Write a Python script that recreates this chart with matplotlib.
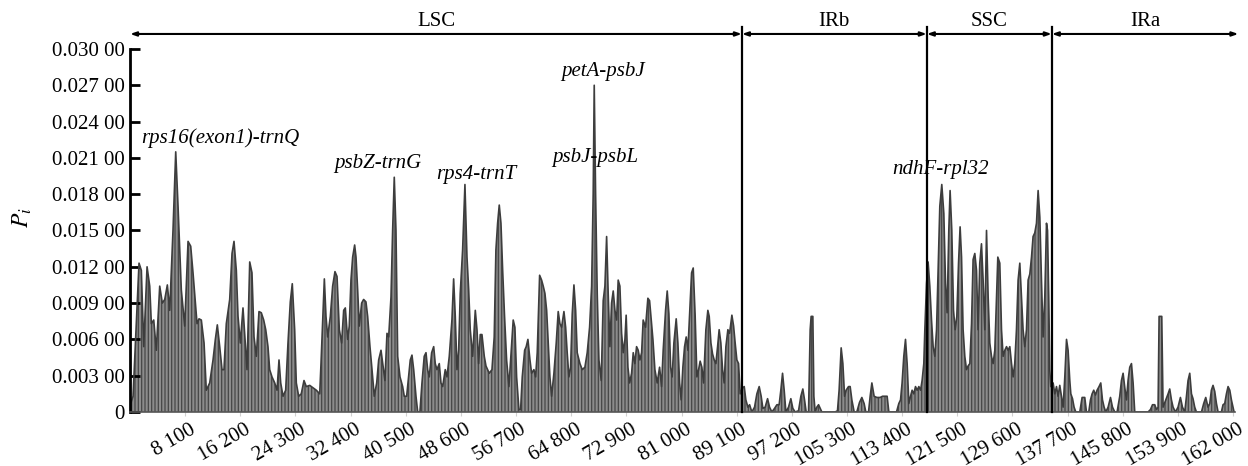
import matplotlib
matplotlib.use("Agg")
import matplotlib.pyplot as plt
import matplotlib.transforms as mtransforms
import numpy as np

plt.rcParams['font.family'] = ['Liberation Serif', 'DejaVu Serif']
plt.rcParams['mathtext.fontset'] = 'stix'
plt.rcParams['hatch.linewidth'] = 0.9

# (window midpoint in kb, nucleotide diversity Pi), one list per region
lsc = [
    (0.15, 0.0008), (0.44, 0.0013), (1.32, 0.0123), (1.66, 0.0117), (2.01, 0.0054),
    (2.50, 0.0120), (2.89, 0.0104), (3.13, 0.0073), (3.48, 0.0076), (3.86, 0.0051),
    (4.36, 0.0104), (4.74, 0.0090), (5.10, 0.0093), (5.48, 0.0105), (5.83, 0.0084),
    (6.31, 0.0150), (6.71, 0.0215), (7.05, 0.0170), (7.53, 0.0101), (8.03, 0.0071),
    (8.52, 0.0141), (8.91, 0.0137), (9.25, 0.0115), (9.84, 0.0073), (10.13, 0.0077),
    (10.47, 0.0076), (10.87, 0.0057), (11.20, 0.0018), (11.70, 0.0024), (12.19, 0.0043),
    (12.53, 0.0060), (12.82, 0.0072), (13.17, 0.0054), (13.51, 0.0035), (13.80, 0.0035),
    (14.14, 0.0073), (14.64, 0.0093), (14.98, 0.0131), (15.27, 0.0141), (15.61, 0.0117),
    (15.86, 0.0079), (16.20, 0.0057), (16.59, 0.0086), (16.93, 0.0057), (17.18, 0.0035),
    (17.58, 0.0124), (17.91, 0.0115), (18.21, 0.0062), (18.55, 0.0046), (18.94, 0.0083),
    (19.28, 0.0082), (19.63, 0.0076), (19.93, 0.0068), (20.26, 0.0054), (20.51, 0.0035),
    (20.85, 0.0029), (21.25, 0.0024), (21.59, 0.0018), (21.88, 0.0043), (22.13, 0.0024),
    (22.47, 0.0013), (22.86, 0.0018), (23.20, 0.0057), (23.54, 0.0091), (23.83, 0.0106),
    (24.18, 0.0068), (24.42, 0.0024), (24.77, 0.0013), (25.15, 0.0015), (25.55, 0.0026),
    (25.89, 0.0021), (26.39, 0.0022), (26.87, 0.0020), (27.36, 0.0018), (27.86, 0.0015),
    (28.05, 0.0040), (28.54, 0.0110), (28.78, 0.0079), (29.03, 0.0062), (29.42, 0.0079),
    (29.76, 0.0104), (30.10, 0.0116), (30.40, 0.0112), (30.74, 0.0068), (31.08, 0.0057),
    (31.38, 0.0084), (31.62, 0.0086), (31.96, 0.0060), (32.20, 0.0071), (32.45, 0.0109),
    (32.70, 0.0128), (32.99, 0.0138), (33.19, 0.0128), (33.43, 0.0101), (33.67, 0.0071),
    (34.02, 0.0090), (34.31, 0.0093), (34.65, 0.0091), (34.90, 0.0079), (35.24, 0.0054),
    (35.54, 0.0035), (35.87, 0.0013), (36.23, 0.0024), (36.52, 0.0043), (36.86, 0.0051),
    (37.11, 0.0040), (37.44, 0.0026), (37.74, 0.0065), (37.99, 0.0062), (38.33, 0.0095),
    (38.57, 0.0150), (38.81, 0.0194), (39.06, 0.0150), (39.31, 0.0046), (39.65, 0.0029),
    (40.04, 0.0021), (40.28, 0.0013), (40.63, 0.0013), (40.92, 0.0029), (41.16, 0.0043),
    (41.41, 0.0047), (41.66, 0.0035), (42.00, 0.0013), (42.25, 0.0), (42.58, 0.0),
    (42.88, 0.0024), (43.21, 0.0046), (43.47, 0.0049), (43.71, 0.0035), (43.95, 0.0029),
    (44.30, 0.0049), (44.60, 0.0054), (44.83, 0.0040), (45.08, 0.0035), (45.42, 0.0040),
    (45.67, 0.0024), (45.92, 0.0021), (46.30, 0.0035), (46.55, 0.0029), (46.89, 0.0046),
    (47.28, 0.0076), (47.53, 0.0110), (47.77, 0.0079), (48.02, 0.0035), (48.27, 0.0051),
    (48.50, 0.0098), (48.85, 0.0134), (49.19, 0.0188), (49.49, 0.0128), (49.74, 0.0101),
    (49.97, 0.0068), (50.32, 0.0046), (50.71, 0.0084), (50.96, 0.0068), (51.20, 0.0040),
    (51.44, 0.0064), (51.69, 0.0064), (52.03, 0.0046), (52.28, 0.0038), (52.52, 0.0035),
    (52.76, 0.0032), (53.16, 0.0035), (53.49, 0.0062), (53.74, 0.0134), (53.99, 0.0156),
    (54.23, 0.0171), (54.48, 0.0156), (54.73, 0.0117), (55.00, 0.0080), (55.31, 0.0043),
    (55.65, 0.0021), (55.99, 0.0051), (56.28, 0.0076), (56.53, 0.0070), (56.78, 0.0029),
    (57.12, 0.0002), (57.37, 0.0002), (57.61, 0.0029), (57.96, 0.0051), (58.19, 0.0054),
    (58.44, 0.0060), (58.74, 0.0043), (58.98, 0.0032), (59.32, 0.0035), (59.57, 0.0029),
    (59.81, 0.0049), (60.16, 0.0113), (60.45, 0.0109), (60.69, 0.0104), (60.94, 0.0098),
    (61.19, 0.0084), (61.42, 0.0057), (61.67, 0.0029), (61.92, 0.0013), (62.26, 0.0032),
    (62.60, 0.0057), (62.89, 0.0083), (63.14, 0.0073), (63.39, 0.0070), (63.73, 0.0083),
    (63.98, 0.0070), (64.21, 0.0049), (64.46, 0.0029), (64.71, 0.0037), (64.95, 0.0081),
    (65.20, 0.0105), (65.45, 0.0084), (65.68, 0.0049), (66.08, 0.0040), (66.42, 0.0035),
    (66.81, 0.0037), (67.15, 0.0049), (67.50, 0.0070), (67.80, 0.0104), (68.03, 0.0181),
    (68.18, 0.0270), (68.38, 0.0181), (68.62, 0.0098), (68.87, 0.0043), (69.21, 0.0026),
    (69.50, 0.0092), (69.75, 0.0104), (70.00, 0.0145), (70.23, 0.0098), (70.48, 0.0054),
    (70.73, 0.0090), (70.97, 0.0100), (71.22, 0.0084), (71.47, 0.0076), (71.70, 0.0109),
    (71.95, 0.0104), (72.20, 0.0065), (72.44, 0.0049), (72.69, 0.0060), (72.87, 0.0080),
    (73.13, 0.0037), (73.38, 0.0024), (73.67, 0.0032), (73.91, 0.0049), (74.15, 0.0040),
    (74.40, 0.0054), (74.64, 0.0051), (74.89, 0.0043), (75.14, 0.0049), (75.37, 0.0076),
    (75.72, 0.0070), (76.06, 0.0094), (76.31, 0.0092), (76.55, 0.0076), (76.80, 0.0060),
    (77.09, 0.0035), (77.43, 0.0024), (77.78, 0.0037), (78.07, 0.0021), (78.31, 0.0051),
    (78.66, 0.0084), (78.90, 0.0100), (79.15, 0.0081), (79.40, 0.0037), (79.63, 0.0029),
    (79.88, 0.0057), (80.22, 0.0077), (80.47, 0.0057), (80.72, 0.0024), (80.95, 0.0010),
    (81.20, 0.0037), (81.45, 0.0054), (81.69, 0.0062), (81.94, 0.0051), (82.19, 0.0081),
    (82.48, 0.0115), (82.72, 0.0119), (83.00, 0.0080), (83.26, 0.0029), (83.51, 0.0035),
    (83.74, 0.0042), (83.99, 0.0037), (84.24, 0.0024), (84.58, 0.0068), (84.87, 0.0084),
    (85.07, 0.0079), (85.32, 0.0057), (85.56, 0.0048), (85.80, 0.0043), (86.05, 0.0040),
    (86.30, 0.0054), (86.53, 0.0068), (86.78, 0.0057), (87.03, 0.0035), (87.27, 0.0024),
    (87.52, 0.0054), (87.81, 0.0068), (88.06, 0.0065), (88.40, 0.0080), (88.65, 0.0071),
    (88.88, 0.0057), (89.13, 0.0043), (89.38, 0.0040), (89.62, 0.0015),
]
irb = [
    (89.97, 0.0020), (90.21, 0.0021), (90.45, 0.0010), (90.75, 0.0004), (91.00, 0.0006),
    (91.33, 0.0), (91.73, 0.0004), (92.07, 0.0015), (92.41, 0.0021), (92.70, 0.0013),
    (92.95, 0.0003), (93.29, 0.0004), (93.64, 0.0011), (93.93, 0.0004), (94.27, 0.0),
    (94.67, 0.0003), (95.01, 0.0006), (95.34, 0.0006), (95.59, 0.0018), (95.84, 0.0032),
    (96.08, 0.0018), (96.33, 0.0), (96.72, 0.0004), (97.06, 0.0011), (97.35, 0.0003),
    (97.69, 0.0), (98.19, 0.0001), (98.53, 0.0013), (98.82, 0.0019), (99.07, 0.0010),
    (99.31, 0.0), (99.66, 0.0), (99.90, 0.0068), (100.04, 0.0079), (100.29, 0.0079),
    (100.44, 0.0013), (100.63, 0.0), (100.88, 0.0004), (101.13, 0.0006), (101.37, 0.0003),
    (101.61, 0.0), (103.57, 0.0), (103.91, 0.0001), (104.15, 0.0018), (104.45, 0.0053),
    (104.70, 0.0040), (104.95, 0.0013), (105.18, 0.0018), (105.53, 0.0021), (105.77, 0.0021),
    (106.02, 0.0010), (106.36, 0.0), (106.75, 0.0), (107.15, 0.0008), (107.49, 0.0012),
    (107.82, 0.0007), (108.07, 0.0), (108.47, 0.0), (108.71, 0.0013), (108.96, 0.0024),
    (109.29, 0.0013), (109.69, 0.0012), (110.17, 0.0012), (110.53, 0.0013), (110.86, 0.0013),
    (111.20, 0.0013), (111.45, 0.0), (112.58, 0.0), (112.92, 0.0007), (113.17, 0.0010),
    (113.40, 0.0024), (113.65, 0.0046), (113.90, 0.0060), (114.14, 0.0040), (114.39, 0.0007),
    (114.64, 0.0013), (114.87, 0.0018), (115.12, 0.0015), (115.37, 0.0021), (115.61, 0.0018),
    (115.86, 0.0021), (116.11, 0.0018), (116.34, 0.0026), (116.59, 0.0040), (116.74, 0.0068),
    (116.99, 0.0106),
]
ssc = [
    (117.22, 0.0124), (117.47, 0.0104), (117.72, 0.0076), (117.96, 0.0054), (118.21, 0.0046),
    (118.46, 0.0068), (118.69, 0.0117), (118.94, 0.0170), (119.23, 0.0188), (119.53, 0.0164),
    (119.78, 0.0106), (120.01, 0.0082), (120.26, 0.0150), (120.45, 0.0183), (120.70, 0.0150),
    (120.95, 0.0084), (121.19, 0.0068), (121.44, 0.0079), (121.69, 0.0123), (121.92, 0.0153),
    (122.13, 0.0128), (122.36, 0.0068), (122.61, 0.0046), (122.86, 0.0035), (123.09, 0.0038),
    (123.35, 0.0040), (123.60, 0.0073), (123.83, 0.0126), (124.08, 0.0131), (124.33, 0.0117),
    (124.56, 0.0068), (124.81, 0.0123), (125.06, 0.0139), (125.30, 0.0109), (125.55, 0.0068),
    (125.80, 0.0150), (126.04, 0.0095), (126.28, 0.0057), (126.53, 0.0046), (126.77, 0.0040),
    (127.02, 0.0051), (127.27, 0.0095), (127.46, 0.0128), (127.75, 0.0123), (128.00, 0.0068),
    (128.24, 0.0046), (128.49, 0.0051), (128.74, 0.0054), (128.97, 0.0051), (129.22, 0.0054),
    (129.47, 0.0040), (129.71, 0.0029), (129.95, 0.0040), (130.20, 0.0068), (130.44, 0.0109),
    (130.69, 0.0123), (130.94, 0.0095), (131.17, 0.0068), (131.42, 0.0054), (131.67, 0.0068),
    (131.91, 0.0109), (132.16, 0.0114), (132.41, 0.0128), (132.64, 0.0145), (132.89, 0.0148),
    (133.14, 0.0156), (133.38, 0.0183), (133.63, 0.0161), (133.87, 0.0109), (134.11, 0.0062),
    (134.36, 0.0095), (134.61, 0.0156), (134.76, 0.0150), (134.94, 0.0095), (135.09, 0.0035),
    (135.24, 0.0021),
]
ira = [
    (135.58, 0.0024), (135.83, 0.0015), (136.08, 0.0021), (136.31, 0.0013), (136.56, 0.0022),
    (136.81, 0.0013), (137.05, 0.0004), (137.30, 0.0029), (137.55, 0.0060), (137.78, 0.0051),
    (138.03, 0.0026), (138.18, 0.0015), (138.43, 0.0011), (138.66, 0.0004), (138.91, 0.0),
    (139.50, 0.0), (139.84, 0.0012), (140.23, 0.0012), (140.48, 0.0), (140.82, 0.0),
    (141.07, 0.0010), (141.31, 0.0015), (141.55, 0.0018), (141.80, 0.0014), (142.04, 0.0018),
    (142.33, 0.0021), (142.58, 0.0024), (142.83, 0.0010), (143.07, 0.0004), (143.32, 0.0),
    (143.66, 0.0004), (144.01, 0.0012), (144.30, 0.0004), (144.64, 0.0), (144.98, 0.0),
    (145.37, 0.0013), (145.62, 0.0026), (145.86, 0.0032), (146.11, 0.0020), (146.36, 0.0010),
    (146.59, 0.0026), (146.84, 0.0037), (147.09, 0.0040), (147.33, 0.0024), (147.57, 0.0),
    (149.53, 0.0), (149.88, 0.0002), (150.18, 0.0006), (150.51, 0.0006), (150.76, 0.0002),
    (151.00, 0.0004), (151.15, 0.0079), (151.54, 0.0079), (151.73, 0.0004), (152.13, 0.0010),
    (152.47, 0.0015), (152.71, 0.0019), (152.96, 0.0010), (153.20, 0.0004), (153.55, 0.0),
    (153.93, 0.0004), (154.28, 0.0012), (154.58, 0.0004), (154.92, 0.0), (155.17, 0.0013),
    (155.40, 0.0026), (155.65, 0.0032), (155.90, 0.0015), (156.13, 0.0011), (156.38, 0.0004),
    (156.63, 0.0), (157.37, 0.0), (157.70, 0.0007), (158.00, 0.0012), (158.33, 0.0004),
    (158.59, 0.0007), (158.83, 0.0018), (159.07, 0.0022), (159.32, 0.0017), (159.57, 0.0007),
    (159.81, 0.0), (160.30, 0.0), (160.54, 0.0006), (160.79, 0.0007), (161.04, 0.0015),
    (161.28, 0.0021), (161.53, 0.0018), (161.77, 0.0010), (162.01, 0.0004), (162.16, 0.0),
]

region_names = ['LSC', 'IRb', 'SSC', 'IRa']
region_edges_kb = [0, 89.87, 117.03, 135.39, 162.8]

peak_labels = ['rps16(exon1)-trnQ', 'psbZ-trnG', 'rps4-trnT',
               'petA-psbJ', 'psbJ-psbL', 'ndhF-rpl32']
peak_label_kb = [13.2, 36.4, 50.8, 69.5, 68.3, 119.1]
peak_label_pi = [0.0226, 0.0205, 0.0196, 0.0281, 0.0210, 0.0200]

xticks = np.arange(8100, 162001, 8100)
yticks = np.linspace(0, 0.03, 11)

points = lsc + irb + ssc + ira
x = np.array([p[0] for p in points]) * 1000
y = np.array([p[1] for p in points])

fig = plt.figure(figsize=(12.48, 4.66), dpi=100)
ax = fig.add_axes([0.1042, 0.1159, 0.8854, 0.779])

ax.fill_between(x, 0, y, facecolor='#8c8c8c', edgecolor='#474747',
                hatch='|||||', linewidth=0)
ax.plot(x, y, color='#3d3d3d', lw=1.2)

ax.set_xlim(0, 162300)
ax.set_ylim(0, 0.030)

# region boundaries and the arrow band on top
y_arrow = 0.03124
y_top = 0.03182
for edge in region_edges_kb[1:4]:
    ax.plot([edge * 1000, edge * 1000], [0, y_top], color='black', lw=1.6,
            clip_on=False, zorder=5)
for i, name in enumerate(region_names):
    x0 = region_edges_kb[i] * 1000
    x1 = region_edges_kb[i + 1] * 1000
    ax.annotate('', xy=(x1, y_arrow), xytext=(x0, y_arrow),
                arrowprops=dict(arrowstyle='<|-|>,head_length=0.35,head_width=0.12',
                                color='black', lw=1.5, shrinkA=0, shrinkB=0),
                annotation_clip=False)
    ax.text((x0 + x1) / 2, 0.0323, name, ha='center', va='center', fontsize=15)

for lab, kb, pi in zip(peak_labels, peak_label_kb, peak_label_pi):
    ax.text(kb * 1000, pi, lab, ha='center', va='center', fontsize=15,
            style='italic', zorder=6)

for side in ['top', 'right']:
    ax.spines[side].set_visible(False)
ax.spines['left'].set_linewidth(2)
ax.spines['bottom'].set_color('#555555')
ax.spines['bottom'].set_linewidth(1.2)

ax.set_yticks(yticks)
ax.set_yticklabels(['0' if v == 0 else f'{v:.5f}'[:5] + ' ' + f'{v:.5f}'[5:]
                    for v in yticks])
ax.tick_params(axis='y', direction='in', length=7, width=2, labelsize=15, pad=4)

ax.set_xticks(xticks)
ax.set_xticklabels([f'{v:,}'.replace(',', ' ') for v in xticks],
                   rotation=30, ha='right', rotation_mode='anchor')
ax.tick_params(axis='x', direction='out', length=3, width=0.8, color='#d0d0d0',
               labelsize=15, pad=3)
offset = mtransforms.ScaledTranslation(4 / 100, 0, fig.dpi_scale_trans)
for lbl in ax.get_xticklabels():
    lbl.set_transform(lbl.get_transform() + offset)

fig.text(22 / 1248, 1 - 218 / 466, r'$P_i$', rotation=90, ha='center',
         va='center', fontsize=17)

fig.savefig('out.png', dpi=100)
